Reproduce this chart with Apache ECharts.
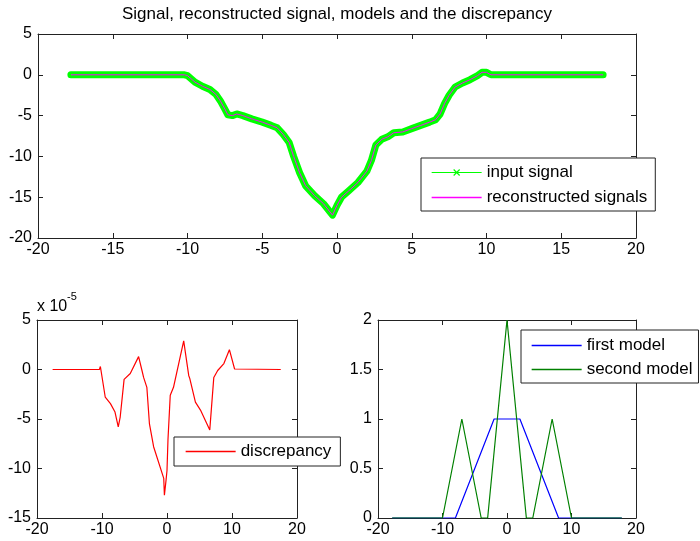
<!DOCTYPE html>
<html>
<head>
<meta charset="utf-8">
<script src="https://cdn.jsdelivr.net/npm/echarts@6/dist/echarts.min.js"></script>
<style>html,body{margin:0;padding:0;background:#fff;}#c{width:700px;height:541px;}</style>
</head>
<body>
<div id="c"></div>
<script>
// ---- data ----
var titleText = 'Signal, reconstructed signal, models and the discrepancy';
var signalX = [-17.8,-10.2,-10,-9.5,-9,-8.5,-8.1,-7.8,-7.5,-7.3,-7.0,-6.7,-6.3,-5.7,-5.0,-4.4,-4.0,-3.6,-3.2,-2.9,-2.5,-2.1,-1.5,-0.9,-0.3,0,0.3,0.8,1.4,2.0,2.3,2.6,3.0,3.4,3.8,4.4,5.0,5.6,6.2,6.6,6.9,7.2,7.5,7.9,8.4,8.9,9.4,9.7,10.0,10.3,17.8];
var signalY = [0,0,-0.1,-0.9,-1.4,-1.8,-2.4,-3.2,-4.2,-4.9,-5.0,-4.8,-5.0,-5.4,-5.8,-6.2,-6.5,-7.3,-8.3,-10.0,-12.0,-13.6,-14.8,-15.8,-17.2,-16.0,-15.0,-14.2,-13.2,-11.8,-10.5,-8.6,-7.9,-7.6,-7.1,-7.0,-6.6,-6.2,-5.8,-5.5,-4.8,-3.5,-2.5,-1.5,-1.0,-0.6,-0.1,0.3,0.3,0,0];
var reconstructedY = [0,0,-0.1,-0.9,-1.4,-1.8,-2.4,-3.2,-4.2,-4.9,-5.0,-4.8,-5.0,-5.4,-5.8,-6.2,-6.5,-7.3,-8.3,-10.0,-12.0,-13.6,-14.8,-15.8,-17.2,-16.0,-15.0,-14.2,-13.2,-11.8,-10.5,-8.6,-7.9,-7.6,-7.1,-7.0,-6.6,-6.2,-5.8,-5.5,-4.8,-3.5,-2.5,-1.5,-1.0,-0.6,-0.1,0.3,0.3,0,0];
// discrepancy in units of 1e-5
var discX = [-17.6,-10.4,-10.25,-9.5,-8.7,-8.0,-7.5,-7.2,-6.6,-5.65,-4.37,-3.85,-3.6,-3.45,-3.1,-2.7,-2.06,-0.5,-0.4,-0.15,0,0.15,0.5,1.0,2.57,2.83,3.34,3.5,4.37,5.15,6.58,7.2,7.8,8.75,9.6,10.4,17.5];
var discY = [0,0,0.3,-2.8,-3.45,-4.3,-5.8,-4.8,-1.0,-0.4,1.3,-0.1,-0.8,-0.6,-1.8,-5.5,-7.8,-11.0,-12.7,-11.2,-10.2,-7.1,-2.6,-1.8,2.9,1.7,-0.6,-0.9,-3.3,-4.1,-6.1,-0.8,-0.1,0.6,2.0,0.05,0];
var firstModelX = [-17.8,-8,-2,2,8,17.8];
var firstModelY = [0,0,1,1,0,0];
var secondModelX = [-17.8,-10,-7,-4,-3,0,3,4,7,10,17.8];
var secondModelY = [0,0,1,0,0,2,0,0,1,0,0];
var topXTicks = {min:-20, max:20, interval:5};
var topYTicks = {min:-20, max:5, interval:5};
var blXTicks = {min:-20, max:20, interval:10};
var blYTicks = {min:-15, max:5, interval:5};
var brXTicks = {min:-20, max:20, interval:10};
var brYTicks = {min:0, max:2, interval:0.5};
var names = ['input signal','reconstructed signals','discrepancy','first model','second model'];
var colors = ['#00ff00','#ff00ff','#ff0000','#0000ff','#008000'];

function pairs(xs, ys){ return xs.map(function(x,i){ return [x, ys[i]]; }); }

var AX = '#222';
var FONT = 'Liberation Sans, Arial, sans-serif';
function xAx(grid, t, pos){
  return {type:'value', gridIndex:grid, position:pos, min:t.min, max:t.max, interval:t.interval,
    axisLine:{show:true, onZero:false, lineStyle:{color:AX,width:1}},
    axisTick:{show:true, inside:true, length:5, lineStyle:{color:AX}},
    axisLabel:{show:pos==='bottom', color:'#000', fontSize:16, fontFamily:FONT, margin:4},
    splitLine:{show:false}};
}
function yAx(grid, t, pos){
  return {type:'value', gridIndex:grid, position:pos, min:t.min, max:t.max, interval:t.interval,
    axisLine:{show:true, onZero:false, lineStyle:{color:AX,width:1}},
    axisTick:{show:true, inside:true, length:5, lineStyle:{color:AX}},
    axisLabel:{show:pos==='left', color:'#000', fontSize:16, fontFamily:FONT, margin:6},
    splitLine:{show:false}};
}
var xLineIcon = 'path://M0 4.4H50V5.6H0Z M21.6 2.4L22.4 1.6L28.4 7.6L27.6 8.4Z M27.6 1.6L28.4 2.4L22.4 8.4L21.6 7.6Z';
function legItem(i, icon){
  var it;
  if (icon) it = {name:names[i], icon:icon, itemStyle:{color:colors[i]}, lineStyle:{color:colors[i], width:1.3}};
  else it = {name:names[i], itemStyle:{color:colors[i], opacity:0}, lineStyle:{color:colors[i], width:1.3, opacity:1}};
  return it;
}
function legendBase(o){
  var b = {orient:'vertical', backgroundColor:'#fff', borderColor:'#222', borderWidth:1, borderRadius:0,
    itemWidth:50, itemHeight:10, symbolKeepAspect:true,
    textStyle:{color:'#000', fontSize:17, fontFamily:FONT}};
  for (var k in o) b[k]=o[k];
  return b;
}

var chart = echarts.init(document.getElementById('c'));
chart.setOption({
  animation:false,
  backgroundColor:'#fff',
  title:{text:titleText, left:122, top:6, padding:0, textStyle:{fontSize:17, fontWeight:'normal', color:'#000', fontFamily:FONT}},
  grid:[
    {left:38, right:64, top:34, height:204},
    {left:37, right:403, top:320, height:198},
    {left:378, right:64, top:320, height:198}
  ],
  xAxis:[xAx(0,topXTicks,'bottom'), xAx(0,topXTicks,'top'), xAx(1,blXTicks,'bottom'), xAx(1,blXTicks,'top'), xAx(2,brXTicks,'bottom'), xAx(2,brXTicks,'top')],
  yAxis:[yAx(0,topYTicks,'left'), yAx(0,topYTicks,'right'), yAx(1,blYTicks,'left'), yAx(1,blYTicks,'right'), yAx(2,brYTicks,'left'), yAx(2,brYTicks,'right')],
  legend:[
    legendBase({left:421, top:158, padding:[6,8,5,10], itemGap:8,
      data:[legItem(0, xLineIcon), legItem(1)]}),
    legendBase({left:174, top:437, padding:[6,9,6,11], itemGap:8,
      data:[legItem(2)]}),
    legendBase({left:521, top:330, padding:[7,6,5,10], itemGap:7,
      data:[legItem(3), legItem(4)]})
  ],
  graphic:[
    {type:'text', left:37, top:299, style:{text:'x 10', fontSize:16, fontFamily:FONT, fill:'#000'}},
    {type:'text', left:67, top:291, style:{text:'-5', fontSize:11, fontFamily:FONT, fill:'#000'}}
  ],
  series:[
    {name:names[0], type:'line', xAxisIndex:0, yAxisIndex:0, data:pairs(signalX, signalY), symbol:'none',
      color:colors[0], lineStyle:{color:colors[0], width:7, join:'round', cap:'round'}},
    {name:names[1], type:'line', xAxisIndex:0, yAxisIndex:0, data:pairs(signalX, reconstructedY), symbol:'none',
      color:colors[1], lineStyle:{color:colors[1], width:1}},
    {name:names[2], type:'line', xAxisIndex:2, yAxisIndex:2, data:pairs(discX, discY), symbol:'none',
      color:colors[2], lineStyle:{color:colors[2], width:1.2}},
    {name:names[3], type:'line', xAxisIndex:4, yAxisIndex:4, data:pairs(firstModelX, firstModelY), symbol:'none',
      color:colors[3], lineStyle:{color:colors[3], width:1.2}},
    {name:names[4], type:'line', xAxisIndex:4, yAxisIndex:4, data:pairs(secondModelX, secondModelY), symbol:'none',
      color:colors[4], lineStyle:{color:colors[4], width:1.2}}
  ]
});
</script>
</body>
</html>
